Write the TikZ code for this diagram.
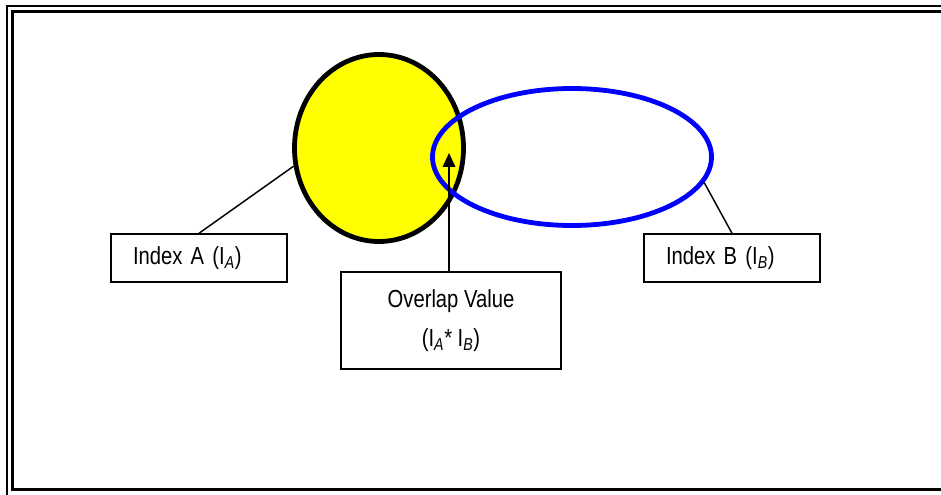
\documentclass[tikz,border=0pt]{standalone}
\usepackage{fontspec}
\setmainfont[FakeStretch=0.82]{Liberation Sans}
\usetikzlibrary{arrows.meta, shapes.geometric}
\definecolor{vennyellow}{RGB}{255,255,0}
\definecolor{vennblue}{RGB}{0,0,255}

\begin{document}
\begin{tikzpicture}[
    x=0.75pt, y=-0.75pt,
    setA/.style={ellipse, draw=black, fill=vennyellow, line width=3.6pt,
                 inner sep=0pt, minimum width=126.75pt, minimum height=140.25pt},
    setB/.style={ellipse, draw=vennblue, line width=3.6pt,
                 inner sep=0pt, minimum width=209.25pt, minimum height=102.75pt},
    labelbox/.style={rectangle, draw, line width=1.1pt, inner xsep=16.5pt,
                     text width=99pt, align=left, minimum height=36pt,
                     font=\fontsize{18.5}{22}\selectfont},
    overlapbox/.style={rectangle, draw, line width=1.1pt, align=center,
                       minimum width=165pt, minimum height=72.75pt,
                       font=\fontsize{18.5}{22}\selectfont},
    callout/.style={line width=1.1pt}
]
\useasboundingbox (0,0) rectangle (941,495);
% cornice doppia
\draw[line width=1.7pt] (7,6) rectangle (952,507);
\draw[line width=2.3pt] (12.5,11.5) rectangle (946,489.5);
% insiemi
\node[setA] (ya) at (379,148) {};
\node[setB] (eb) at (572,157) {};
% riquadri
\node[labelbox] (ia) at (199,258) {Index A (I\textsubscript{\textit{A}})};
\node[labelbox] (ib) at (732,258) {Index B (I\textsubscript{\textit{B}})};
\node[overlapbox] (ov) at (451,320.5)
    {Overlap Value\\[7pt](I\textsubscript{\textit{A}}* I\textsubscript{\textit{B}})};
% collegamenti
\coordinate (ovtip) at (449,153);
\draw[callout] (ia.north) -- (ya.192);
\draw[callout] (ib.north) -- (eb.-11);
\draw[callout, -{Triangle[length=10.5pt, width=9.5pt]}] (ov.north -| ovtip) -- (ovtip);
\end{tikzpicture}
\end{document}
